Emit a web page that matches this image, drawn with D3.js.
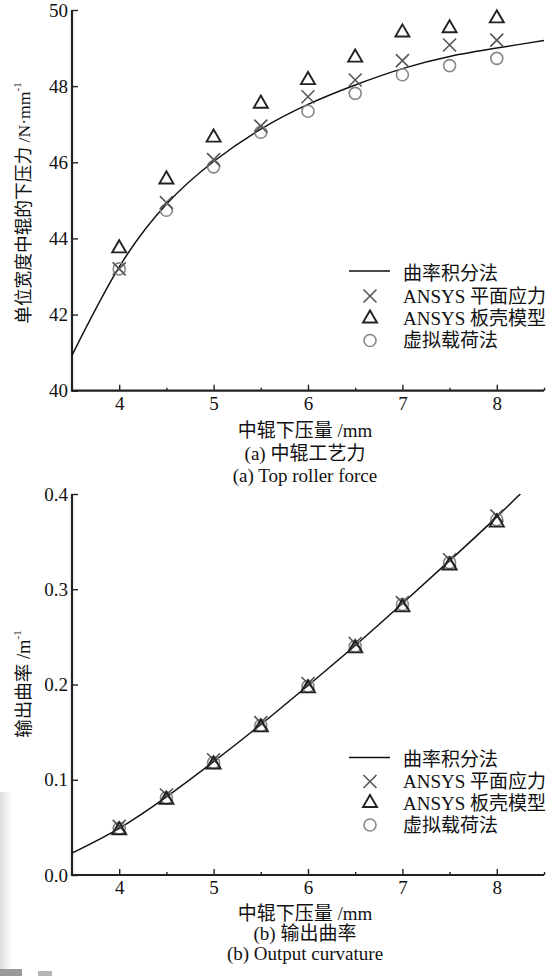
<!DOCTYPE html>
<html><head><meta charset="utf-8">
<script src="https://cdn.jsdelivr.net/npm/d3@7/dist/d3.min.js"></script>
<style>
html,body{margin:0;padding:0;background:#fff;}
text{font-family:"Liberation Serif","Noto Sans CJK SC",serif;fill:#111;}
</style></head>
<body>
<svg id="chart" width="558" height="976"></svg>
<script>
// ---------- data ----------
const xPoints = [4, 4.5, 5, 5.5, 6, 6.5, 7, 7.5, 8];
const curveX = [3.5, 4, 4.5, 5, 5.5, 6, 6.5, 7, 7.5, 8, 8.5];
const xTickValues = [4, 5, 6, 7, 8];
const xMinorTicks = [4.5, 5.5, 6.5, 7.5, 8.5];

// (a) top roller force, N/mm
const forceCurve   = [40.93, 43.25, 44.9, 46.02, 46.87, 47.52, 48.03, 48.46, 48.78, 49.0, 49.2];
const forcePlane   = [43.2, 44.94, 46.07, 46.95, 47.72, 48.16, 48.67, 49.08, 49.21];
const forceShell   = [43.74, 45.55, 46.65, 47.54, 48.16, 48.75, 49.41, 49.52, 49.78];
const forceVirtual = [43.2, 44.74, 45.88, 46.79, 47.34, 47.81, 48.30, 48.54, 48.73];
const forceYTicks = [40, 42, 44, 46, 48, 50];

// (b) output curvature, 1/m
const curvCurve   = [0.023, 0.049, 0.082, 0.119, 0.158, 0.199, 0.241, 0.285, 0.330, 0.376, 0.425];
const curvPlane   = [0.051, 0.084, 0.121, 0.160, 0.201, 0.243, 0.286, 0.331, 0.377];
const curvShell   = [0.047, 0.079, 0.116, 0.155, 0.196, 0.238, 0.281, 0.325, 0.370];
const curvVirtual = [0.049, 0.081, 0.118, 0.157, 0.198, 0.240, 0.284, 0.328, 0.373];
const curvYTicks = [0, 0.1, 0.2, 0.3, 0.4];

const legendLabels = ["曲率积分法", "ANSYS 平面应力", "ANSYS 板壳模型", "虚拟载荷法"];
const xLabel = "中辊下压量 /mm";
// ---------------------------

const svg = d3.select("#chart");
const FS = 19;

// faint scan shading at the lower-left edge of the page
const defs = svg.append("defs");
const grad = defs.append("linearGradient").attr("id", "edge").attr("x1", 0).attr("x2", 1);
grad.append("stop").attr("offset", 0).attr("stop-color", "#dcdcdc");
grad.append("stop").attr("offset", 1).attr("stop-color", "#ffffff");
svg.append("rect").attr("x", 0).attr("y", 792).attr("width", 12).attr("height", 184).attr("fill", "url(#edge)");
svg.append("rect").attr("x", 0).attr("y", 969).attr("width", 22).attr("height", 7).attr("fill", "#9a9a9a");
svg.append("rect").attr("x", 38).attr("y", 971).attr("width", 14).attr("height", 5).attr("fill", "#b5b5b5");

function drawMarker(g, type, x, y) {
  if (type === "x") {
    const s = 6.5;
    g.append("path").attr("d", `M${x-s},${y-s}L${x+s},${y+s}M${x-s},${y+s}L${x+s},${y-s}`)
      .attr("stroke", "#555").attr("stroke-width", 1.6).attr("fill", "none");
  } else if (type === "tri") {
    g.append("path").attr("d", d3.symbol(d3.symbolTriangle, 85)())
      .attr("transform", `translate(${x},${y})`)
      .attr("stroke", "#222").attr("stroke-width", 1.9).attr("fill", "none");
  } else {
    g.append("circle").attr("cx", x).attr("cy", y).attr("r", 6)
      .attr("stroke", "#888").attr("stroke-width", 1.6).attr("fill", "none");
  }
}

function panel(cfg) {
  const g = svg.append("g");
  const x = d3.scaleLinear().domain([3.5, 8.5]).range([72, 544]);
  const y = d3.scaleLinear().domain(cfg.yDomain).range([cfg.bottom, cfg.top]);
  const clipId = "clip" + cfg.id;
  defs.append("clipPath").attr("id", clipId).append("rect")
    .attr("x", 72).attr("y", cfg.top).attr("width", 472).attr("height", cfg.bottom - cfg.top);

  // axes
  const xAxis = d3.axisBottom(x).tickValues(xTickValues).tickSize(-6).tickPadding(6).tickFormat(d3.format("d"));
  const gx = g.append("g").attr("transform", `translate(0,${cfg.bottom})`).call(xAxis);
  const gxm = g.append("g").attr("transform", `translate(0,${cfg.bottom})`)
    .call(d3.axisBottom(x).tickValues(xMinorTicks).tickSize(-3).tickFormat(""));
  gxm.select(".domain").remove();
  const yAxis = d3.axisLeft(y).tickValues(cfg.yTicks).tickSize(-6).tickPadding(4).tickFormat(cfg.fmt);
  const gy = g.append("g").attr("transform", `translate(72,0)`).call(yAxis);
  [gx, gy, gxm].forEach(a => {
    a.selectAll("text").attr("font-size", FS).attr("font-family", "Liberation Serif").attr("fill", "#111");
    a.selectAll(".tick line").attr("stroke", "#222").attr("stroke-width", 1.4);
  });
  gx.select(".domain").attr("stroke", "#222").attr("stroke-width", 2.2).attr("d", `M72,0H544`);
  gy.select(".domain").attr("stroke", "#222").attr("stroke-width", 2.2).attr("d", `M0,${cfg.bottom + 1}V${cfg.top}`);

  // curve
  const line = d3.line().x((d, i) => x(curveX[i])).y(d => y(d)).curve(d3.curveNatural);
  g.append("path").datum(cfg.curve).attr("d", line).attr("clip-path", `url(#${clipId})`)
    .attr("fill", "none").attr("stroke", "#111").attr("stroke-width", 1.5);

  // markers
  const mg = g.append("g");
  xPoints.forEach((xv, i) => drawMarker(mg, "circle", x(xv), y(cfg.virtual[i])));
  xPoints.forEach((xv, i) => drawMarker(mg, "x", x(xv), y(cfg.plane[i])));
  xPoints.forEach((xv, i) => drawMarker(mg, "tri", x(xv), y(cfg.shell[i])));

  // legend
  const lg = g.append("g");
  cfg.legendY.forEach((ly, i) => {
    if (i === 0) lg.append("line").attr("x1", 349).attr("x2", 390).attr("y1", ly - 2).attr("y2", ly - 2)
      .attr("stroke", "#111").attr("stroke-width", 1.5);
    else drawMarker(lg, ["", "x", "tri", "circle"][i], 370, ly);
    lg.append("text").attr("x", 403).attr("y", ly).attr("dominant-baseline", "central")
      .attr("font-size", FS).text(legendLabels[i]);
  });

  // y label
  const yl = g.append("text").attr("transform", `translate(${cfg.yLabelX},${cfg.yLabelC}) rotate(-90)`)
    .attr("text-anchor", "middle").attr("dominant-baseline", "central").attr("font-size", cfg.yLabelFS);
  yl.append("tspan").text(cfg.yLabel);
  yl.append("tspan").attr("font-size", 11).attr("dy", -7).text("-1");

  // x label and captions
  g.append("text").attr("x", 305).attr("y", cfg.xLabelY).attr("text-anchor", "middle")
    .attr("dominant-baseline", "central").attr("font-size", FS).text(xLabel);
  g.append("text").attr("x", 305).attr("y", cfg.cap1Y).attr("text-anchor", "middle")
    .attr("dominant-baseline", "central").attr("font-size", FS).text(cfg.cap1);
  g.append("text").attr("x", 305).attr("y", cfg.cap2Y).attr("text-anchor", "middle")
    .attr("dominant-baseline", "central").attr("font-size", FS).text(cfg.cap2);
}

panel({
  id: "a", top: 10, bottom: 390.7, yDomain: [40, 50], yTicks: forceYTicks, fmt: d3.format("d"),
  curve: forceCurve, plane: forcePlane, shell: forceShell, virtual: forceVirtual,
  legendY: [273, 296, 318.5, 340.5],
  yLabel: "单位宽度中辊的下压力 /N·mm", yLabelX: 24, yLabelC: 203, yLabelFS: 17.7,
  xLabelY: 430, cap1Y: 453.5, cap2Y: 475,
  cap1: "(a) 中辊工艺力", cap2: "(a) Top roller force"
});
panel({
  id: "b", top: 494, bottom: 875, yDomain: [0, 0.4], yTicks: curvYTicks, fmt: d3.format(".1f"),
  curve: curvCurve, plane: curvPlane, shell: curvShell, virtual: curvVirtual,
  legendY: [759.5, 781.5, 803, 825],
  yLabel: "输出曲率 /m", yLabelX: 24, yLabelC: 684, yLabelFS: 18.5,
  xLabelY: 913, cap1Y: 933, cap2Y: 953,
  cap1: "(b) 输出曲率", cap2: "(b) Output curvature"
});
</script>
</body></html>
